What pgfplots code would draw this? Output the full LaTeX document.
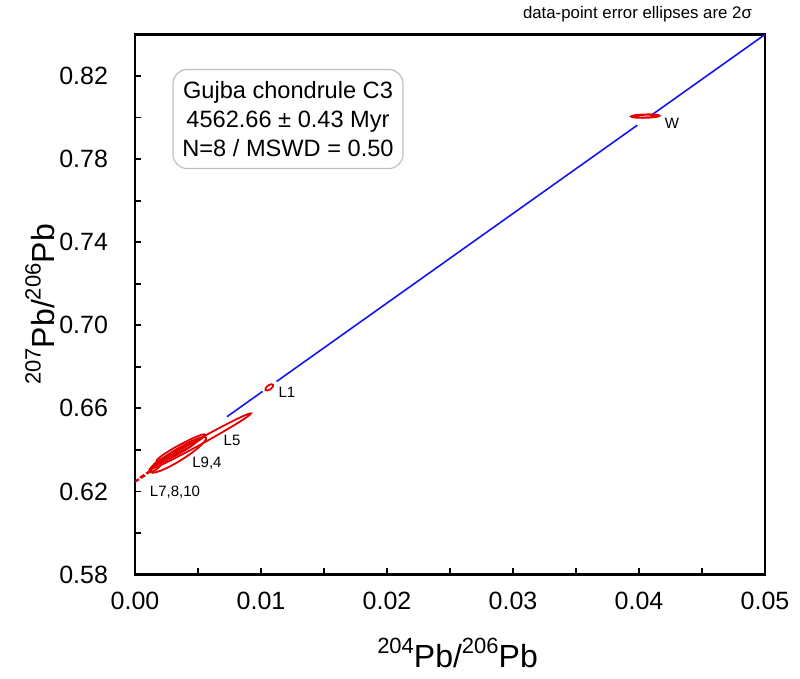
\documentclass[border=0pt]{standalone}
\usepackage{pgfplots}
\pgfplotsset{compat=1.18}
\usepackage{fontspec}
\setmainfont{Liberation Sans}
\definecolor{ered}{RGB}{228,0,0}
\definecolor{lblue}{RGB}{20,20,240}
\newcommand{\sups}[1]{\raisebox{0.42em}{\fontsize{11}{12}\selectfont #1}}
\begin{document}
\begin{tikzpicture}
\path (-67.5pt,-52pt) rectangle (332.5pt,286pt);
\begin{axis}[
  scale only axis, width=315pt, height=270pt,
  at={(0,0)}, anchor=south west,
  xmin=0, xmax=0.05, ymin=0.58, ymax=0.84,
  axis line style={line width=1.2pt},
  xtick={0,0.01,0.02,0.03,0.04,0.05},
  ytick={0.58,0.62,0.66,0.70,0.74,0.78,0.82},
  minor x tick num=1, minor y tick num=1,
  xtick pos=bottom, ytick pos=left,
  tick align=inside,
  major tick length=3pt, minor tick length=3pt,
  every tick/.style={black, line width=0.9pt},
  /pgf/number format/assume math mode=true,
  /pgf/number format/fixed, /pgf/number format/fixed zerofill, /pgf/number format/precision=2,
  scaled x ticks=false, scaled y ticks=false,
  tick label style={font=\fontsize{12.5}{15}\selectfont},
  xticklabel style={yshift=-5pt},
  yticklabel style={xshift=-10pt},
  every axis x label/.style={at={(axis description cs:0.512,-0.145)}, anchor=center},
  every axis y label/.style={at={(axis description cs:-0.151,0.5)}, anchor=center, rotate=90},
  xlabel={\fontsize{16}{18}\selectfont\sups{204}Pb/\sups{206}Pb},
  ylabel={\fontsize{16}{18}\selectfont\sups{207}Pb/\sups{206}Pb},
  clip=false,
]
% isochron line (drawn in pieces, gaps at the ellipses)
\addplot[lblue, line width=0.8pt] coordinates {(0,0.6245) (0.00016,0.6252)};
\addplot[lblue, line width=0.8pt] coordinates {(0.0073,0.65596) (0.01013,0.66816)};
\addplot[lblue, line width=0.8pt] coordinates {(0.01124,0.67294) (0.03987,0.79634)};
\addplot[lblue, line width=0.8pt] coordinates {(0.04093,0.80091) (0.05,0.8400)};
% error ellipses (2 sigma)
\addplot[ered, line width=0.9pt, only marks, mark=o, mark size=1pt, mark options={rotate=29, xscale=28.4, yscale=1.4}] coordinates {(0.00526,0.6443)};
\addplot[ered, line width=0.9pt, only marks, mark=o, mark size=1pt, mark options={rotate=32, xscale=16.2, yscale=2.9}] coordinates {(0.00345,0.6376)};
\addplot[ered, line width=0.9pt, only marks, mark=o, mark size=1pt, mark options={rotate=28.6, xscale=13.75, yscale=1.6}] coordinates {(0.00364,0.6410)};
\addplot[ered, line width=0.9pt, only marks, mark=o, mark size=1pt, mark options={rotate=28.7, xscale=12, yscale=1.1}] coordinates {(0.0031,0.6380)};
\addplot[ered, line width=0.9pt, only marks, mark=o, mark size=1pt, mark options={rotate=35, xscale=3.5, yscale=1.25}] coordinates {(0.00159,0.6316)};
\addplot[ered, line width=0.9pt, only marks, mark=o, mark size=1pt, mark options={rotate=35, xscale=4.2, yscale=0.3, dash pattern=on 2.5pt off 1.2pt}] coordinates {(0.00067,0.6275)};
\addplot[ered, line width=0.9pt, only marks, mark=o, mark size=1pt, mark options={rotate=35, xscale=2.3, yscale=1.1}] coordinates {(0.01066,0.6701)};
\addplot[ered, line width=1.1pt, only marks, mark=o, mark size=1pt, mark options={rotate=1.5, xscale=6.9, yscale=0.75}] coordinates {(0.0405,0.8007)};
% labels
\node[font=\fontsize{7.5}{9}\selectfont] at (axis cs:0.04262,0.7973) {W};
\node[font=\fontsize{7.5}{9}\selectfont] at (axis cs:0.01206,0.6677) {L1};
\node[font=\fontsize{7.5}{9}\selectfont] at (axis cs:0.0077,0.6446) {L5};
\node[font=\fontsize{7.5}{9}\selectfont] at (axis cs:0.00571,0.6335) {L9,4};
\node[font=\fontsize{7.5}{9}\selectfont] at (axis cs:0.00317,0.6195) {L7,8,10};
\end{axis}
\node[draw=black!25, line width=0.6pt, rounded corners=7pt, minimum width=115pt, minimum height=49.5pt, align=center, font=\fontsize{11.8}{14.5}\selectfont] at (76.5pt,227.75pt) {Gujba chondrule C3\\4562.66 ± 0.43 Myr\\N=8 / MSWD = 0.50};
\node[anchor=east, font=\fontsize{8.4}{10}\selectfont] at (312pt,280pt) {data-point error ellipses are 2σ};
\end{tikzpicture}
\end{document}
